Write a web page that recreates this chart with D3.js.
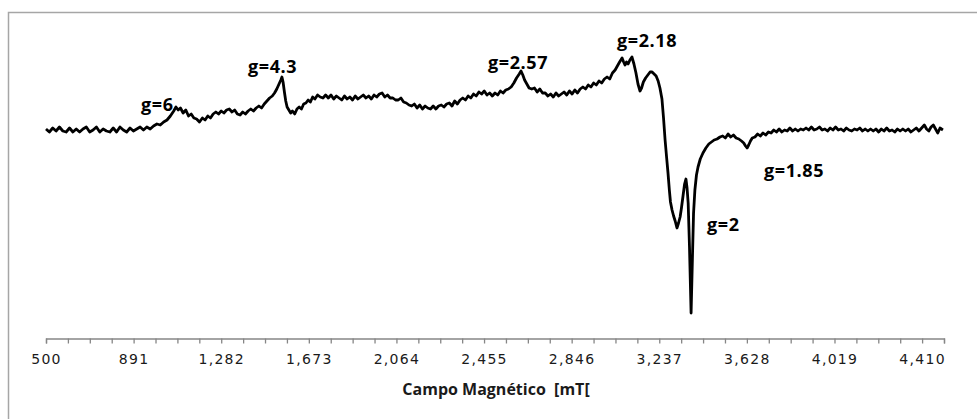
<!DOCTYPE html>
<html>
<head>
<meta charset="utf-8">
<script src="https://cdnjs.cloudflare.com/ajax/libs/d3/7.8.5/d3.min.js"></script>
<style>
  body { margin: 0; background: #fff; }
  svg { display: block; }
</style>
</head>
<body>
<svg id="chart" width="977" height="419"></svg>
<script>
// magnetic field (mT) of each sample
var fields = [500,515,530,545,560,575,590,605,620,635,650,665,680,695,710,725,740,755,770,785,
  800,815,830,845,860,875,890,905,920,935,950,965,980,995,1010,1025,1040,1055,1070,1080,
  1090,1100,1112,1124,1136,1148,1160,1172,1185,1198,1210,1222,1234,1246,1258,1270,1282,1294,1306,1318,
  1330,1342,1354,1366,1378,1390,1402,1414,1426,1438,1450,1462,1474,1486,1498,1510,1520,1530,1540,1548,
  1553,1558,1564,1570,1576,1584,1592,1600,1610,1620,1630,1640,1650,1660,1670,1680,1690,1700,1712,1724,
  1736,1748,1760,1772,1784,1796,1808,1820,1832,1844,1856,1868,1880,1892,1904,1916,1928,1940,1952,1964,
  1976,1988,2000,2012,2024,2036,2048,2060,2072,2084,2096,2108,2120,2132,2144,2156,2168,2180,2192,2204,
  2216,2228,2240,2252,2264,2276,2288,2300,2312,2324,2336,2348,2360,2372,2384,2396,2408,2420,2432,2444,
  2456,2468,2480,2492,2504,2516,2528,2540,2552,2564,2576,2588,2600,2612,2620,2628,2636,2646,2656,2668,
  2680,2692,2704,2716,2728,2740,2752,2764,2776,2788,2800,2812,2824,2836,2848,2860,2872,2884,2896,2908,
  2920,2932,2944,2956,2968,2980,2992,3004,3016,3028,3040,3050,3060,3071,3078,3084,3091,3098,3106,3115,
  3124,3133,3142,3151,3158,3166,3176,3186,3196,3205,3214,3223,3232,3240,3249,3256,3263,3270,3276,3282,
  3287,3294,3301,3308,3316,3323,3330,3336,3343,3350,3356,3361,3366,3372,3379,3385,3390,3396,3403,3410,
  3420,3432,3445,3458,3470,3482,3495,3508,3520,3532,3544,3556,3568,3580,3592,3604,3614,3622,3629,3636,
  3644,3652,3664,3676,3688,3700,3712,3724,3736,3748,3760,3772,3784,3796,3808,3820,3832,3844,3856,3868,
  3880,3892,3904,3916,3928,3940,3952,3964,3976,3988,4000,4012,4024,4036,4048,4060,4072,4084,4096,4108,
  4120,4132,4144,4156,4168,4180,4192,4204,4216,4228,4240,4252,4264,4276,4288,4300,4312,4324,4336,4348,
  4360,4372,4384,4396,4408,4420,4430,4440,4450,4460,4470,4480,4490,4503];

// EPR signal (arbitrary units)
var signal = [-1,-4,0,-3,1,-3,-4,0,-4,-1,-4,-1,1,-4,-2,1,-4,-1,-3,-4,
  0,-4,1,-2,-4,0,-3,-1,1,-2,1,-1,2,4,3,6,8,12,17,21,
  18,20,15,18,12,14,10,9,6,10,8,12,10,14,16,14,17,15,18,19,
  16,18,14,13,16,14,17,19,17,20,22,20,24,27,30,32,35,39,44,48,
  51,46,36,27,21,18,15,17,14,19,21,19,24,25,28,26,31,29,33,31,
  30,33,30,33,29,32,30,28,32,29,31,28,32,29,31,33,30,32,29,33,
  31,34,35,31,33,30,30,28,28,30,26,25,23,22,24,20,23,19,22,20,
  19,22,19,22,23,21,24,25,22,27,24,28,30,28,32,30,34,32,36,34,
  37,33,35,32,35,33,37,35,38,39,41,45,50,54,57,53,48,44,40,39,
  40,36,39,35,35,32,34,31,35,32,34,36,33,37,34,38,35,39,41,39,
  43,41,45,43,47,45,49,51,49,55,58,62,66,70,66,63,66,64,68,71,
  64,55,44,37,40,46,50,53,56,56,54,52,47,40,29,10,-12,-30,-45,-62,
  -74,-82,-88,-93,-100,-95,-89,-80,-68,-56,-51,-60,-75,-120,-185,-130,-85,-62,-47,-39,
  -31,-25,-20,-16,-14,-12,-11,-9,-8,-10,-6,-9,-7,-10,-11,-13,-15,-18,-20,-17,
  -13,-10,-9,-6,-8,-5,-7,-4,-5,-2,-4,-1,-4,-2,-3,0,-3,-1,-3,-1,
  -2,0,-2,1,-2,-1,1,-2,-1,-3,0,-2,1,-2,-1,-3,0,-2,-3,-1,
  -2,0,-3,-1,-3,-1,-3,-1,-4,-1,-3,0,-3,-2,-4,-1,-3,-1,-3,-1,
  -4,-2,0,-3,0,3,-1,-3,1,3,-1,-5,0,-2];

// tick labels on the field axis
var tickLabels = [500, 891, 1282, 1673, 2064, 2455, 2846, 3237, 3628, 4019, 4410];
var minorStep = 97.75;

// peak annotations
var peakLabels = ["g=6", "g=4.3", "g=2.57", "g=2.18", "g=2", "g=1.85"];
var peakX = [141, 248, 488, 617, 707, 764];
var peakY = [111, 73, 69, 47, 231, 177];

var svg = d3.select("#chart");

// outer chart border
svg.append("rect")
  .attr("x", 8.5).attr("y", 12.5)
  .attr("width", 990).attr("height", 430)
  .attr("fill", "#fff")
  .attr("stroke", "#a6a6a6")
  .attr("stroke-width", 1.5);

var x = d3.scaleLinear().domain([500, 500 + 41 * minorStep]).range([46, 944]);
var y = d3.scaleLinear().domain([-210, 110]).range([338, 18]);

// x axis: minor ticks every step, labels every 4th
var axis = d3.axisBottom(x)
  .tickValues(d3.range(0, 42).map(function(i){ return 500 + i * minorStep; }))
  .tickSize(5)
  .tickFormat(function(d){
    var v = Math.round(d);
    return tickLabels.indexOf(v) >= 0 ? d3.format(",")(v) : "";
  });

var g = svg.append("g")
  .attr("transform", "translate(0,338.5)")
  .call(axis);
g.select(".domain").attr("stroke", "#868686").attr("stroke-width", 1.3);
g.selectAll(".tick line").attr("stroke", "#868686").attr("stroke-width", 1.3);
g.selectAll(".tick text")
  .attr("y", 16)
  .attr("font-family", "DejaVu Sans, Verdana, sans-serif")
  .attr("font-size", 14)
  .attr("letter-spacing", 1.3)
  .attr("fill", "#1a1a1a");

// axis title
svg.append("text")
  .attr("x", 496).attr("y", 395)
  .attr("text-anchor", "middle")
  .attr("font-family", "Open Sans, sans-serif")
  .attr("font-weight", "bold")
  .attr("font-size", 16)
  .attr("fill", "#1a1a1a")
  .style("white-space", "pre")
  .text("Campo Magnético  [mT[");

// spectrum
var data = fields.map(function(f, i){ return [f, signal[i]]; });
var line = d3.line()
  .x(function(d){ return x(d[0]); })
  .y(function(d){ return y(d[1]); });

svg.append("path")
  .datum(data)
  .attr("d", line)
  .attr("fill", "none")
  .attr("stroke", "#000")
  .attr("stroke-width", 2.8)
  .attr("stroke-linejoin", "round");

// g-value labels
svg.selectAll(".peak")
  .data(peakLabels)
  .enter().append("text")
  .attr("class", "peak")
  .attr("x", function(d, i){ return peakX[i]; })
  .attr("y", function(d, i){ return peakY[i]; })
  .attr("font-family", "Open Sans, sans-serif")
  .attr("font-weight", "bold")
  .attr("font-size", 18)
  .attr("letter-spacing", 0.6)
  .attr("fill", "#000")
  .text(function(d){ return d; });
</script>
</body>
</html>
